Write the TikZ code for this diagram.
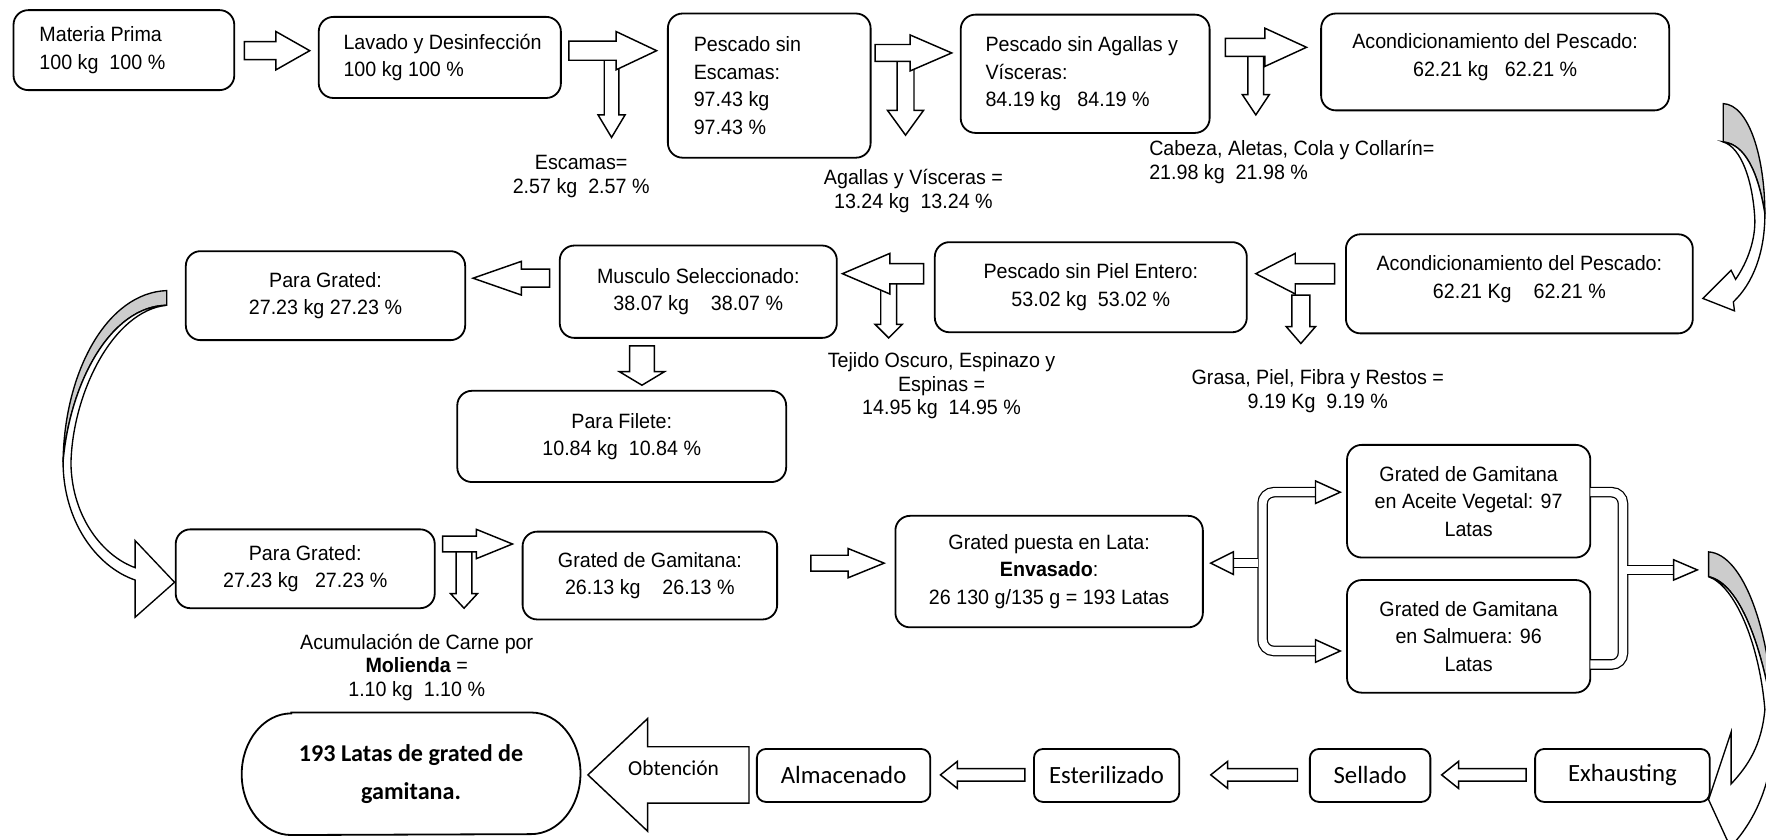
\documentclass[tikz,border=0pt]{standalone}
\usepackage{fontspec}
\setmainfont{Liberation Sans}[FakeStretch=0.95]
\newfontfamily\calib{Carlito}
\newcommand{\af}{\fontsize{9.2}{12.25}\selectfont}
\newcommand{\afl}{\fontsize{9.2}{10.5}\selectfont}
\newcommand{\blkh}[6]{\draw[blockar] (#1,{#3-#4}) -- ({#2-(#6)},{#3-#4}) -- ({#2-(#6)},{#3-#5}) -- (#2,#3) -- ({#2-(#6)},{#3+#5}) -- ({#2-(#6)},{#3+#4}) -- (#1,{#3+#4}) -- cycle;}
\newcommand{\blkv}[6]{\draw[blockar] ({#1-#4},#2) -- ({#1-#4},{#3-#6}) -- ({#1-#5},{#3-#6}) -- (#1,#3) -- ({#1+#5},{#3-#6}) -- ({#1+#4},{#3-#6}) -- ({#1+#4},#2) -- cycle;}
\begin{document}
\begin{tikzpicture}[x=0.5pt,y=-0.5pt,
 box/.style={draw, line width=0.8pt, rounded corners=6.5pt, inner sep=0pt, align=flush center, font=\af},
 lbox/.style={box, align=flush left},
 sbox/.style={draw, line width=0.8pt, rounded corners=4pt, inner sep=0pt, font=\calib\fontsize{11}{13}\selectfont},
 lbl/.style={font=\afl, align=flush center, inner sep=0pt},
 blockar/.style={draw, fill=white, line width=0.65pt, line join=miter},
 dbl/.style={double=white, double distance=3.6pt, line width=0.55pt, rounded corners=5pt},
 curvgray/.style={draw, fill=gray!40, line width=0.6pt},
 curvwhite/.style={draw, fill=white, line width=0.6pt, line join=miter}]
\useasboundingbox (0,0) rectangle (1568,745);
\fill[white] (0,0) rectangle (1568,745);
\clip (0,0) rectangle (1568,745);

% ---- row 1 ----
\node[lbox, text width=75pt, inner xsep=11.5pt, minimum height=35.5pt] (mp) at (110,44.5) {\mbox{Materia Prima}\\\mbox{100 kg~ 100 \%}};
\node[lbox, text width=85.5pt, inner xsep=11pt, minimum height=36pt] (lav) at (390.5,51) {\mbox{Lavado y Desinfección}\\\mbox{100 kg 100 \%}};
\node[lbox, text width=67pt, inner xsep=11.5pt, minimum height=64pt] (pse) at (683,76) {\mbox{Pescado sin}\\Escamas:\\\mbox{97.43 kg}\\\mbox{97.43 \%}};
\node[lbox, text width=88.5pt, inner xsep=11pt, minimum height=52.5pt] (psa) at (963.5,65.5) {\mbox{Pescado sin Agallas y}\\Vísceras:\\\mbox{84.19 kg~~ 84.19 \%}};
\node[box, minimum width=154.5pt, minimum height=43pt] (ac1) at (1327.5,55) {Acondicionamiento del Pescado:\\62.21 kg~~ 62.21 \%\\[-6pt]\mbox{}};

\node[lbl] (esc) at (516,157) {Escamas=\\2.57 kg~ 2.57 \%};
\node[lbl] (agv) at (811,169.5) {Agallas y Vísceras =\\13.24 kg~ 13.24 \%};
\node[lbl, align=flush left, anchor=west] (cab) at (1020,144) {Cabeza, Aletas, Cola y Collarín=\\21.98 kg~ 21.98 \%};

% ---- row 2 ----
\node[box, minimum width=154pt, minimum height=44pt] (ac2) at (1349,252) {Acondicionamiento del Pescado:\\62.21 Kg~~~ 62.21 \%\\[-6pt]\mbox{}};
\node[box, minimum width=138.5pt, minimum height=40pt] (psp) at (968.5,255) {Pescado sin Piel Entero:\\53.02 kg~ 53.02 \%};
\node[box, minimum width=123pt, minimum height=41pt] (mus) at (620,259) {Musculo Seleccionado:\\38.07 kg~~~ 38.07 \%};
\node[box, minimum width=124pt, minimum height=39.5pt] (pg1) at (289,262.5) {Para Grated:\\27.23 kg 27.23 \%};
\node[box, minimum width=146pt, minimum height=40.5pt] (fil) at (552,387.5) {Para Filete:\\10.84 kg~ 10.84 \%};

\node[lbl] (grs) at (1170,347.5) {Grasa, Piel, Fibra y Restos =\\9.19 Kg~ 9.19 \%};
\node[lbl] (tej) at (836,342.5) {Tejido Oscuro, Espinazo y\\Espinas =\\14.95 kg~ 14.95 \%};

% ---- row 3 ----
\node[box, minimum width=115pt, minimum height=35pt] (pg2) at (271,505) {Para Grated:\\27.23 kg~~ 27.23 \%};
\node[box, minimum width=113pt, minimum height=39pt] (ggm) at (577,511) {Grated de Gamitana:\\26.13 kg~~~ 26.13 \%};
\node[box, minimum width=136.5pt, minimum height=49.5pt] (gpl) at (931.5,507.5) {Grated puesta en Lata:\\\textbf{Envasado}:\\26 130 g/135 g = 193 Latas};
\node[box, minimum width=108pt, minimum height=50pt] (acv) at (1304,445) {Grated de Gamitana\\en Aceite Vegetal: 97\\Latas};
\node[box, minimum width=108pt, minimum height=50pt] (sal) at (1304,565) {Grated de Gamitana\\en Salmuera: 96\\Latas};

\node[lbl] (acu) at (370,592.5) {Acumulación de Carne por\\\textbf{Molienda} =\\1.10 kg~ 1.10 \%};

% ---- row 4 ----
\node[minimum width=150pt, minimum height=54pt, inner sep=0pt, align=flush center, font=\calib\bfseries\fontsize{10.7}{17}\selectfont] (fin) at (365,687) {193 Latas de grated de\\gamitana.};
\draw[line width=0.8pt] ([xshift=22pt]fin.north west) -- ([xshift=-22pt]fin.north east) arc[start angle=90, end angle=-90, x radius=22pt, y radius=27pt] -- ([xshift=22pt]fin.south west) arc[start angle=270, end angle=90, x radius=22pt, y radius=27pt] -- cycle;
\node[sbox, minimum width=77pt, minimum height=23.5pt] (alm) at (749,688.5) {Almacenado};
\node[sbox, minimum width=64.5pt, minimum height=23.5pt] (est) at (982.5,688.5) {Esterilizado};
\node[sbox, minimum width=53.5pt, minimum height=23.5pt] (sel) at (1216.5,688.5) {Sellado};
\node[sbox, minimum width=77.5pt, minimum height=23.5pt] (exh) at (1440.5,688.5) {Exhausting};

% ---- block arrows ----
\blkh{217}{275}{45}{8}{17}{30}
\blkv{543}{50}{122}{6.5}{12}{20}
\blkh{505}{583}{45}{8.5}{17}{36}
\blkv{804}{52}{120}{7.5}{16}{22}
\blkh{777}{845}{47}{7.5}{16}{37}
\blkv{1115}{46}{102}{7}{12}{18}
\blkh{1088}{1160}{42}{8}{17}{37}
\blkh{1185}{1115}{243}{9}{18}{-35}
\blkv{1155}{262}{305}{8}{13}{15}
\blkv{789}{250}{300}{7}{12}{12}
\blkh{820}{748}{243}{9}{18}{-42}
\blkh{488}{420}{247}{8}{15}{-43}
\blkv{570}{307}{342}{11}{20}{12}
\blkv{412}{486}{540}{7}{12}{13}
\blkh{393}{455}{483}{7}{13}{32}
\blkh{720}{785}{500}{7}{13}{32}
\blkh{665}{522}{688}{25}{50}{-53}
\node[font=\calib\fontsize{9.5}{11}\selectfont, inner sep=0pt] (obt) at (598,682) {Obtención};
\blkh{910}{835}{688}{5.5}{12}{-15}
\blkh{1152}{1075}{688}{5.5}{12}{-15}
\blkh{1355}{1280}{688}{5.5}{12}{-15}

% ---- brackets ----
\draw[dbl] (1170,437) -- (1121,437) -- (1121,578) -- (1170,578);
\draw[blockar] (1168,427) -- (1190,437) -- (1168,447) -- cycle;
\draw[blockar] (1168,568) -- (1190,578) -- (1168,588) -- cycle;
\draw[dbl, rounded corners=0pt] (1117,500) -- (1094,500);
\draw[blockar] (1095,490) -- (1075,500) -- (1095,510) -- cycle;
\draw[dbl] (1412,437) -- (1441,437) -- (1441,590) -- (1412,590);
\draw[dbl, rounded corners=0pt] (1445,506) -- (1487,506);
\draw[blockar] (1486,497) -- (1507,506) -- (1486,515) -- cycle;

% ---- curved arrows ----
% top right
\filldraw[curvgray] (1530,92) .. controls (1553,93) and (1567,140) .. (1567,190) .. controls (1561,152) and (1549,128) .. (1530,126) -- cycle;
\filldraw[curvwhite] (1530,126) .. controls (1549,128) and (1561,152) .. (1567,190) .. controls (1567,225) and (1556,252) .. (1539,268) -- (1540,276) -- (1512,265) -- (1537,240) -- (1541,248) .. controls (1552,232) and (1559,212) .. (1558,193) .. controls (1556,160) and (1546,131) .. (1530,126) -- cycle;
% bottom right
\filldraw[curvgray] (1517,490) .. controls (1548,492) and (1572,560) .. (1575,640) .. controls (1565,575) and (1545,518) .. (1517,512) -- cycle;
\filldraw[curvwhite] (1517,512) .. controls (1545,518) and (1565,575) .. (1575,640) .. controls (1576,690) and (1560,725) .. (1540,748) -- (1540,760) -- (1517,710) -- (1537,650) -- (1537,696) .. controls (1552,680) and (1564,662) .. (1567,630) .. controls (1562,570) and (1540,520) .. (1517,512) -- cycle;
% left
\filldraw[curvgray] (148,258) .. controls (95,260) and (57,330) .. (56,410) .. controls (62,340) and (98,272) .. (148,271) -- cycle;
\filldraw[curvwhite] (148,271) .. controls (98,272) and (62,340) .. (56,410) .. controls (56,462) and (85,503) .. (120,515) -- (120,548) -- (155,517) -- (120,480) -- (120,504) .. controls (92,494) and (64,460) .. (63,412) .. controls (64,350) and (100,276) .. (148,271) -- cycle;
\end{tikzpicture}
\end{document}
